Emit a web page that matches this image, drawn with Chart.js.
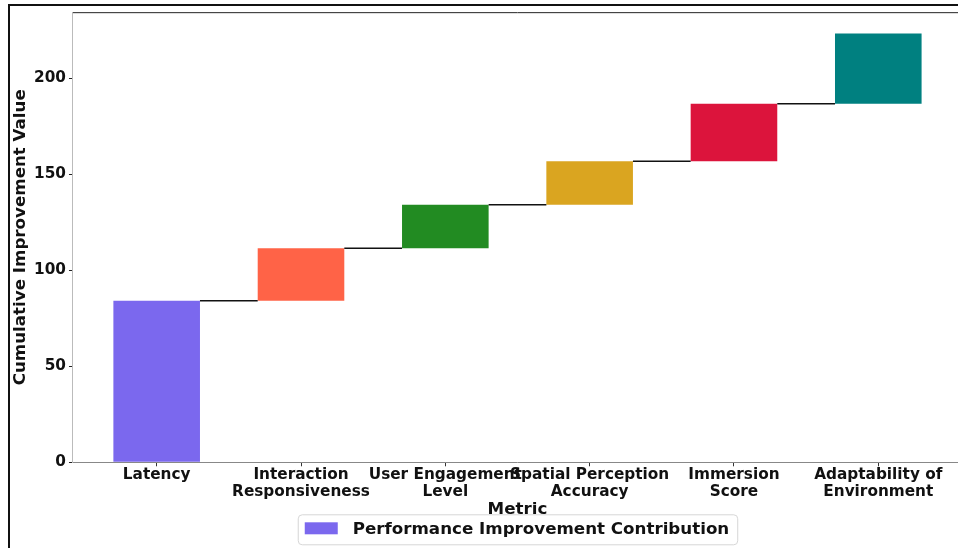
<!DOCTYPE html>
<html>
<head>
<meta charset="utf-8">
<script src="https://cdn.jsdelivr.net/npm/chart.js@4.4.1/dist/chart.umd.min.js"></script>
<style>
    html, body { margin: 0; padding: 0; background: #fff; overflow: hidden; }
    #wrap { position: relative; width: 958px; height: 548px; overflow: hidden; }
    #frame { position: absolute; left: 8px; top: 4px; width: 1000px; height: 600px; border: 2px solid #111; box-sizing: border-box; pointer-events: none; }
    #box { position: absolute; left: 0; top: 0; width: 975px; height: 548px; }
</style>
</head>
<body>
<div id="wrap">
    <div id="box"><canvas id="chart"></canvas></div>
    <div id="frame"></div>
</div>
<script>
// 지표 이름 (x축)
const metrics = [
    'Latency',
    ['Interaction', 'Responsiveness'],
    ['User Engagement', 'Level'],
    ['Spatial Perception', 'Accuracy'],
    ['Immersion', 'Score'],
    ['Adaptability of', 'Environment']
];
// 각 지표의 개선 기여값
const contributions = [84.2, 27.3, 22.7, 22.7, 29.9, 36.6];
const barColors = ['#7B68EE', '#FF6347', '#228B22', '#DAA520', '#DC143C', '#008080'];
const yTicks = [0, 50, 100, 150, 200];
const seriesLabel = 'Performance Improvement Contribution';

// 누적값 계산 (폭포 차트)
const starts = [];
const ends = [];
let running = 0;
contributions.forEach(v => {
    starts.push(running);
    running += v;
    ends.push(running);
});

const FONT = 'DejaVu Sans';

// 막대 사이 연결선
const connectorPlugin = {
    id: 'connectors',
    afterDatasetsDraw(chart) {
        const meta = chart.getDatasetMeta(0);
        const y = chart.scales.y;
        const ctx = chart.ctx;
        ctx.save();
        ctx.strokeStyle = '#111';
        ctx.lineWidth = 1.5;
        for (let i = 0; i < meta.data.length - 1; i++) {
            const a = meta.data[i];
            const b = meta.data[i + 1];
            const py = y.getPixelForValue(ends[i]);
            ctx.beginPath();
            ctx.moveTo(a.x + a.width / 2, py);
            ctx.lineTo(b.x - b.width / 2, py);
            ctx.stroke();
        }
        ctx.restore();
    }
};

// 위/오른쪽 테두리
const spinePlugin = {
    id: 'spines',
    afterDraw(chart) {
        const { left, right, top, bottom } = chart.chartArea;
        const ctx = chart.ctx;
        ctx.save();
        ctx.lineWidth = 1;
        ctx.strokeStyle = '#222';
        ctx.beginPath();
        ctx.moveTo(left, top + 0.5);
        ctx.lineTo(right, top + 0.5);
        ctx.moveTo(right - 0.5, top);
        ctx.lineTo(right - 0.5, bottom);
        ctx.stroke();
        ctx.restore();
    }
};

// 하단 범례 (Metric 제목 위에 겹침)
const legendPlugin = {
    id: 'customLegend',
    afterDraw(chart) {
        const ctx = chart.ctx;
        const { left, right, bottom } = chart.chartArea;
        ctx.save();
        ctx.font = 'bold 16.7px ' + FONT;
        const tw = ctx.measureText(seriesLabel).width;
        const w = 7 + 33 + 15 + tw + 8;
        const h = 30;
        const cx = (left + right) / 2;
        const x0 = cx - w / 2;
        const y0 = bottom + 52;
        ctx.fillStyle = 'rgba(255,255,255,0.92)';
        ctx.strokeStyle = '#d6d6d6';
        ctx.lineWidth = 1;
        ctx.beginPath();
        ctx.roundRect(x0 + 0.5, y0 + 0.5, w, h, 4);
        ctx.fill();
        ctx.stroke();
        ctx.fillStyle = barColors[0];
        ctx.fillRect(x0 + 7, y0 + 8, 33, 12);
        ctx.fillStyle = '#111';
        ctx.textBaseline = 'middle';
        ctx.fillText(seriesLabel, x0 + 55, y0 + 15);
        ctx.restore();
    }
};

const ctx = document.getElementById('chart');
new Chart(ctx, {
    type: 'bar',
    data: {
        datasets: [{
            label: seriesLabel,
            data: contributions.map((v, i) => ({ x: i, y: [starts[i], ends[i]] })),
            backgroundColor: barColors,
            borderWidth: 0,
            barPercentage: 0.6,
            categoryPercentage: 1.0
        }]
    },
    options: {
        responsive: true,
        maintainAspectRatio: false,
        animation: false,
        layout: { padding: { left: 7, top: 11, right: 13, bottom: 28 } },
        plugins: {
            legend: { display: false },
            tooltip: { enabled: false }
        },
        scales: {
            x: {
                type: 'linear',
                min: -0.58,
                max: contributions.length - 1 + 0.58,
                offset: false,
                afterBuildTicks: scale => {
                    scale.ticks = metrics.map((_, i) => ({ value: i }));
                },
                ticks: {
                    autoSkip: false,
                    maxRotation: 0,
                    padding: 0,
                    color: '#111',
                    font: { family: FONT, size: 15.3, weight: 'bold', lineHeight: 1.1 },
                    callback: v => metrics[v]
                },
                grid: { offset: false, drawOnChartArea: false, drawTicks: true, tickLength: 4, color: '#333' },
                border: { color: '#888', width: 1 },
                title: {
                    display: true,
                    text: 'Metric',
                    color: '#111',
                    padding: { top: 0, bottom: 0 },
                    font: { family: FONT, size: 16.7, weight: 'bold' }
                }
            },
            y: {
                min: 0,
                max: Math.max(...ends) * 1.05,
                afterBuildTicks: scale => {
                    scale.ticks = yTicks.map(v => ({ value: v }));
                },
                ticks: {
                    padding: 3,
                    color: '#111',
                    font: { family: FONT, size: 15.3, weight: 'bold' }
                },
                grid: { offset: false, drawOnChartArea: false, drawTicks: true, tickLength: 4, color: '#222' },
                border: { color: '#bbb', width: 1 },
                title: {
                    display: true,
                    text: 'Cumulative Improvement Value',
                    color: '#111',
                    padding: { top: 4, bottom: 0 },
                    font: { family: FONT, size: 16.7, weight: 'bold' }
                }
            }
        }
    },
    plugins: [connectorPlugin, spinePlugin, legendPlugin]
});
</script>
</body>
</html>
